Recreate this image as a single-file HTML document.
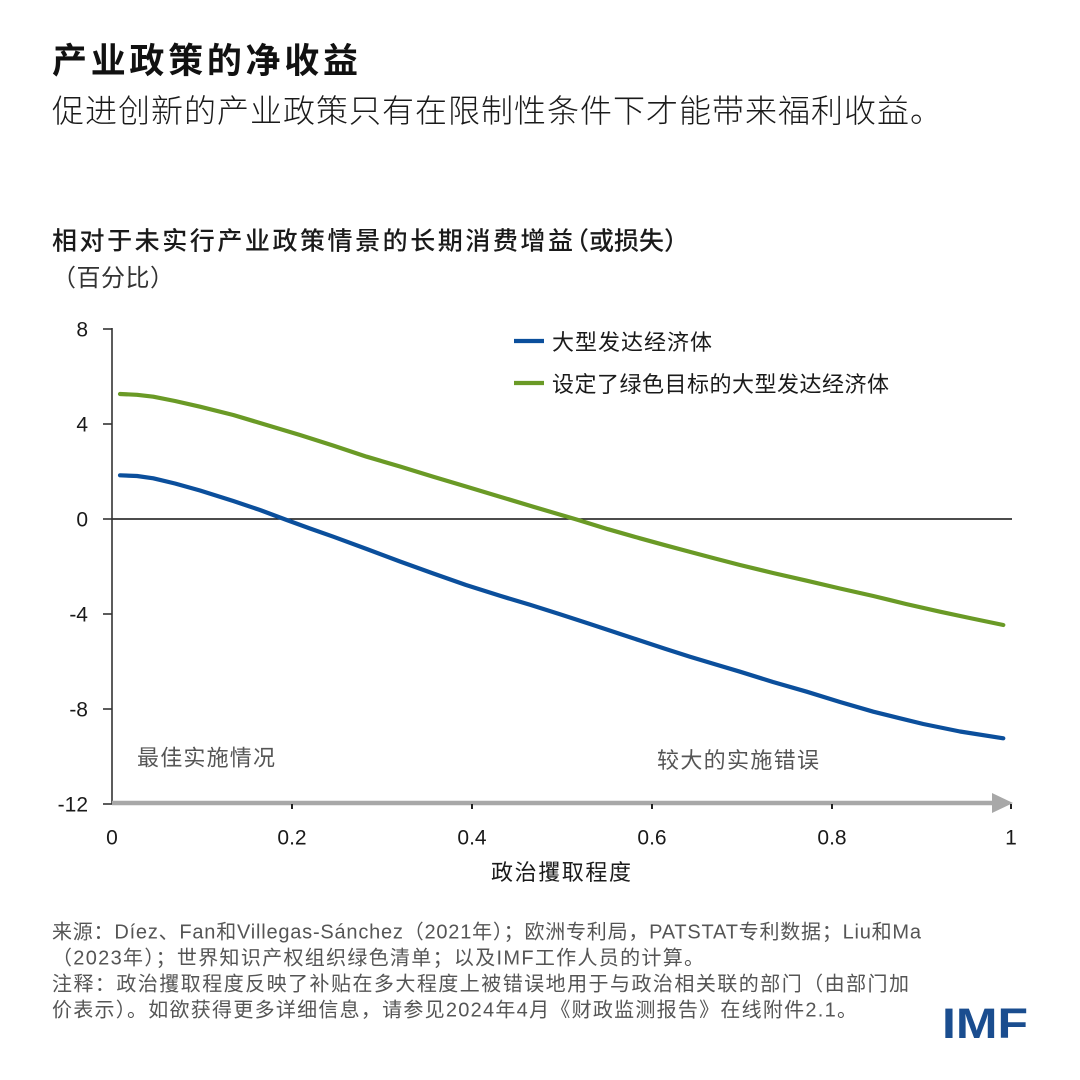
<!DOCTYPE html>
<html>
<head>
<meta charset="utf-8">
<style>
html,body{margin:0;padding:0;background:#fff;}
body{width:1080px;height:1080px;overflow:hidden;}
svg{display:block;}
text{font-family:"Liberation Sans","Noto Sans CJK SC",sans-serif;}
</style>
</head>
<body>
<svg width="1080" height="1080" viewBox="0 0 1080 1080" xmlns="http://www.w3.org/2000/svg">
<rect x="0" y="0" width="1080" height="1080" fill="#ffffff"/>

<!-- Titles -->
<text x="52" y="73" font-size="35" font-weight="bold" fill="#111" textLength="306" lengthAdjust="spacing">产业政策的净收益</text>
<text x="52" y="122" font-size="32" font-weight="300" fill="#1a1a1a" textLength="890" lengthAdjust="spacing">促进创新的产业政策只有在限制性条件下才能带来福利收益。</text>

<text x="52" y="249.5" font-size="25" font-weight="500" fill="#1a1a1a" textLength="521" lengthAdjust="spacing">相对于未实行产业政策情景的长期消费增益</text>
<text x="564" y="249.5" font-size="25" font-weight="500" fill="#1a1a1a" textLength="125" lengthAdjust="spacing">（或损失）</text>
<text x="52" y="286" font-size="24" fill="#333" textLength="122" lengthAdjust="spacing">（百分比）</text>

<!-- Zero line -->
<line x1="112" y1="519" x2="1012" y2="519" stroke="#111" stroke-width="1.6"/>

<!-- Y axis -->
<line x1="112" y1="328" x2="112" y2="804" stroke="#333" stroke-width="1.6"/>
<g stroke="#333" stroke-width="1.6">
  <line x1="103" y1="329" x2="112" y2="329"/>
  <line x1="103" y1="424" x2="112" y2="424"/>
  <line x1="103" y1="519" x2="112" y2="519"/>
  <line x1="103" y1="614" x2="112" y2="614"/>
  <line x1="103" y1="709" x2="112" y2="709"/>
  <line x1="103" y1="804" x2="112" y2="804"/>
</g>
<g font-size="21" fill="#1a1a1a" text-anchor="end">
  <text x="88" y="336.5">8</text>
  <text x="88" y="431.5">4</text>
  <text x="88" y="526.5">0</text>
  <text x="88" y="621.5">-4</text>
  <text x="88" y="716.5">-8</text>
  <text x="88" y="811.5">-12</text>
</g>

<!-- X axis (gray arrow) -->
<line x1="112" y1="803" x2="995" y2="803" stroke="#a8a8a8" stroke-width="4.5"/>
<polygon points="992,793 1013,803 992,813" fill="#a8a8a8"/>
<g stroke="#222" stroke-width="2">
  <line x1="292" y1="804" x2="292" y2="809"/>
  <line x1="472" y1="804" x2="472" y2="809"/>
  <line x1="652" y1="804" x2="652" y2="809"/>
  <line x1="832" y1="804" x2="832" y2="809"/>
  <line x1="1011" y1="804" x2="1011" y2="809"/>
</g>
<g font-size="21" fill="#1a1a1a" text-anchor="middle">
  <text x="112" y="844.5">0</text>
  <text x="292" y="844.5">0.2</text>
  <text x="472" y="844.5">0.4</text>
  <text x="652" y="844.5">0.6</text>
  <text x="832" y="844.5">0.8</text>
  <text x="1011" y="844.5">1</text>
</g>
<text x="491" y="880" font-size="22" fill="#1a1a1a" textLength="140" lengthAdjust="spacing">政治攫取程度</text>

<!-- Series -->
<polyline fill="none" stroke="#6a9a26" stroke-width="4.2" stroke-linejoin="round" stroke-linecap="round"
 points="120,394 137,394.8 153.3,396.7 175,401 200,406.7 233.3,415 265,424.5 300,435 333,445.5 366.7,456.7 400,466.5 433.3,476.7 466,486.5 500,496.7 530,505.8 560,514.6 577,519.6 608,529.2 640,538.3 665,545.2 690,551.9 715,558.5 740,565 773,573 806.7,580.7 840,588.5 873.3,596 906,604 940,611.7 972,618.5 1003.3,625"/>
<polyline fill="none" stroke="#0b4f9c" stroke-width="4.2" stroke-linejoin="round" stroke-linecap="round"
 points="120,475.3 137,476 153.3,478.3 175,483.5 200,490.5 233.3,501 260,510 286.7,520 310,528.5 333.3,536.7 366.7,549 400,561.5 433.3,573.5 466,585 500,595.8 530,604.8 560,614.2 590,624 615,632.3 640,640.5 665,648.8 690,656.7 715,664.3 740,671.7 773,682 806.7,691.7 840,702 873.3,711.7 900,718.3 923.3,724 960,731.5 1003.3,738.3"/>

<!-- Legend -->
<line x1="514" y1="341" x2="544" y2="341" stroke="#0b4f9c" stroke-width="4.2"/>
<text x="552" y="350" font-size="22" fill="#1a1a1a" textLength="160" lengthAdjust="spacing">大型发达经济体</text>
<line x1="514" y1="383" x2="544" y2="383" stroke="#6a9a26" stroke-width="4.2"/>
<text x="552" y="392" font-size="22" fill="#1a1a1a" textLength="337" lengthAdjust="spacing">设定了绿色目标的大型发达经济体</text>

<!-- Annotations -->
<text x="137" y="765.5" font-size="22" fill="#555" textLength="138" lengthAdjust="spacing">最佳实施情况</text>
<text x="657" y="768" font-size="22" fill="#555" textLength="162" lengthAdjust="spacing">较大的实施错误</text>

<!-- Footer -->
<g font-size="20" fill="#555">
  <text x="52" y="938.6" textLength="869" lengthAdjust="spacing">来源：Díez、Fan和Villegas-Sánchez（2021年）；欧洲专利局，PATSTAT专利数据；Liu和Ma</text>
  <text x="52" y="964.6" textLength="652" lengthAdjust="spacing">（2023年）；世界知识产权组织绿色清单；以及IMF工作人员的计算。</text>
  <text x="52" y="990.6" textLength="857" lengthAdjust="spacing">注释：政治攫取程度反映了补贴在多大程度上被错误地用于与政治相关联的部门（由部门加</text>
  <text x="52" y="1016.6" textLength="805" lengthAdjust="spacing">价表示）。如欲获得更多详细信息，请参见2024年4月《财政监测报告》在线附件2.1。</text>
</g>

<!-- IMF logo -->
<text x="942" y="1038" font-size="43" font-weight="bold" fill="#1a4d8f" textLength="86" lengthAdjust="spacingAndGlyphs">IMF</text>
</svg>
</body>
</html>
